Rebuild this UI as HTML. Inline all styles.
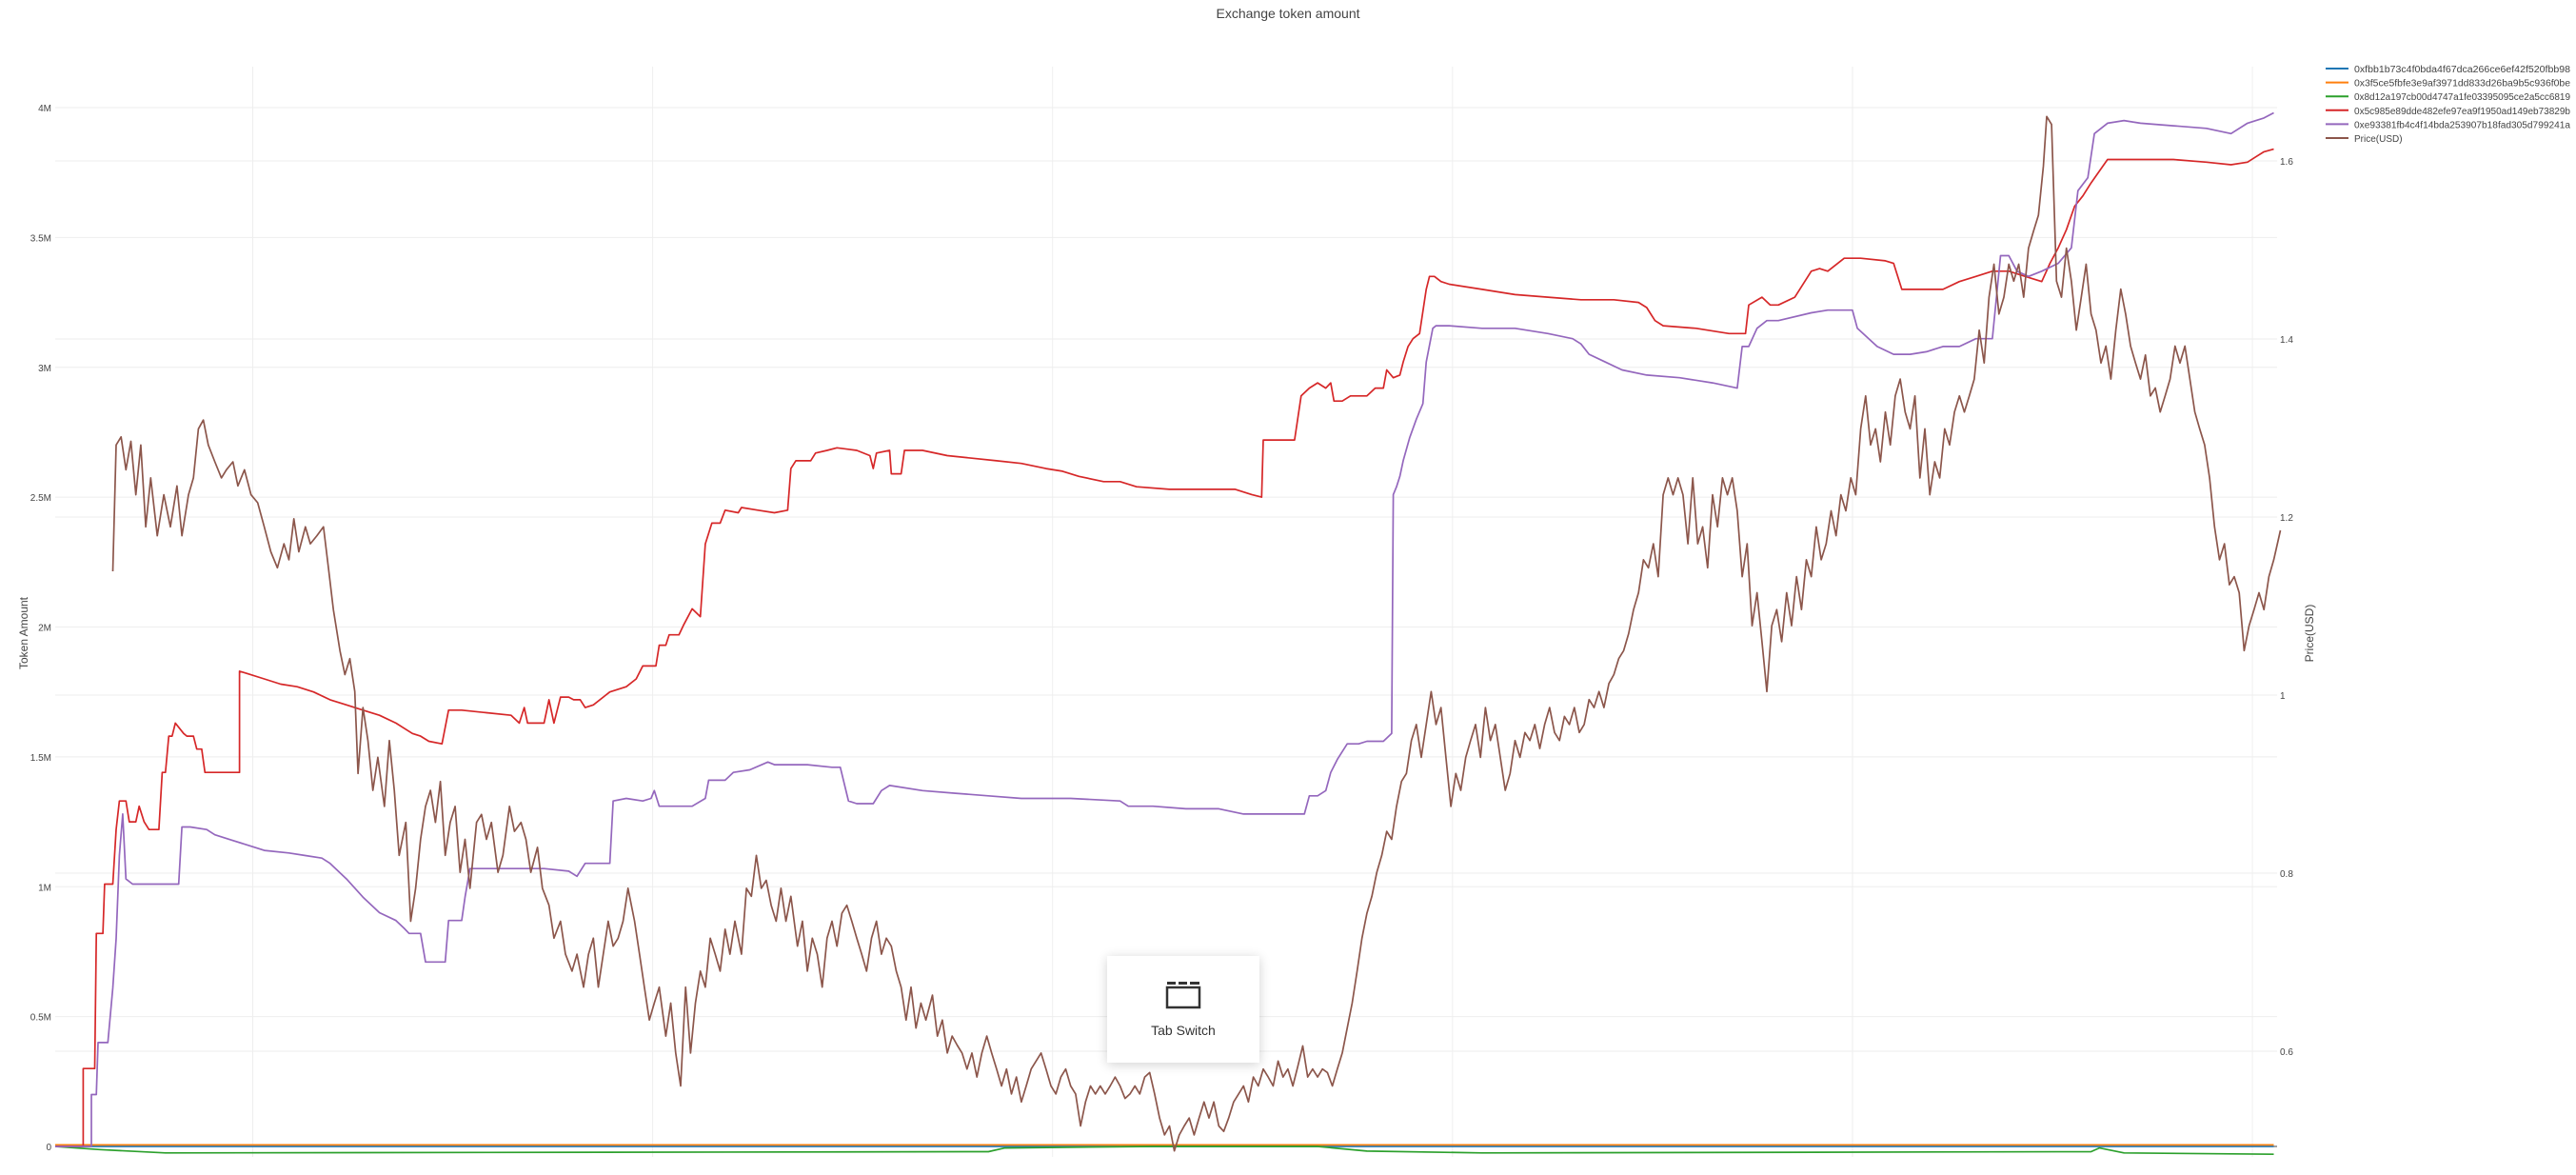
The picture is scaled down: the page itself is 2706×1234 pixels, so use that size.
<!DOCTYPE html>
<html><head><meta charset="utf-8">
<style>
html,body{margin:0;padding:0;background:#fff;width:2706px;height:1234px;overflow:hidden;font-family:"Liberation Sans",sans-serif;}
svg{display:block}
</style></head>
<body>
<svg id="chart" width="2706" height="1234" xmlns="http://www.w3.org/2000/svg">
  <defs><filter id="sh" x="-20%" y="-20%" width="140%" height="140%"><feGaussianBlur stdDeviation="6"/></filter></defs>
  <text x="1353" y="19" text-anchor="middle" font-size="14" fill="#444">Exchange token amount</text>
  <g id="grid"></g>
  <g id="axes"></g>
  <g id="series"></g>
  <text transform="translate(29,665) rotate(-90)" text-anchor="middle" font-size="12" fill="#444">Token Amount</text>
  <text transform="translate(2430,665) rotate(-90)" text-anchor="middle" font-size="12" fill="#444">Price(USD)</text>
  <g id="legend"></g>
  <g>
    <rect x="1163" y="1006" width="160" height="112" fill="#000" opacity="0.18" filter="url(#sh)"/>
    <rect x="1163" y="1004" width="160" height="112" fill="#fff"/>
    <g fill="#333">
      <rect x="1226" y="1031" width="9" height="3"/><rect x="1238" y="1031" width="9" height="3"/><rect x="1250" y="1031" width="10" height="3"/>
      <rect x="1226" y="1037" width="34" height="21" fill="none" stroke="#333" stroke-width="2.5"/>
    </g>
    <text x="1243" y="1087" text-anchor="middle" font-size="14" fill="#333">Tab Switch</text>
  </g>
</svg>
<script>
const tokenTicks=[0,0.5,1,1.5,2,2.5,3,3.5,4];
const tokenTickLabels=["0","0.5M","1M","1.5M","2M","2.5M","3M","3.5M","4M"];
const priceTicks=[0.6,0.8,1.0,1.2,1.4,1.6];
const priceTickLabels=["0.6","0.8","1","1.2","1.4","1.6"];
const xGridDays=[153,396,639,882,1125,1368];
const seriesNames=["0xfbb1b73c4f0bda4f67dca266ce6ef42f520fbb98","0x3f5ce5fbfe3e9af3971dd833d26ba9b5c936f0be","0x8d12a197cb00d4747a1fe03395095ce2a5cc6819","0x5c985e89dde482efe97ea9f1950ad149eb73829b","0xe93381fb4c4f14bda253907b18fad305d799241a","Price(USD)"];
const seriesColors=["#1f77b4","#ff7f0e","#2ca02c","#d62728","#9467bd","#8c564b"];
const blueDays=[33,1381];
const blueValues=[0,0];
const orangeDays=[33,1381];
const orangeValues=[0.006,0.006];
const greenDays=[33,60,100,600,610,700,800,830,900,1270,1275,1290,1381];
const greenValues=[0,-0.012,-0.025,-0.02,-0.006,0,0,-0.018,-0.025,-0.02,-0.006,-0.025,-0.03];
const redDays=[33,50,50,57,58,62,63,68,70,72,76,78,82,84,87,90,96,98,100,102,104,106,111,113,117,119,122,124,145,145,150,160,170,180,190,200,210,220,230,240,250,255,260,268,272,280,295,310,315,318,320,330,333,336,340,345,348,352,355,360,370,380,386,390,398,400,404,406,412,415,420,425,428,432,437,440,448,450,460,470,478,480,483,492,495,502,508,520,528,530,532,540,541,547,549,560,575,590,605,620,635,645,655,670,680,690,710,730,750,760,766,767,775,786,790,795,800,805,808,810,815,820,825,830,835,840,842,846,850,852,855,858,862,866,868,871,875,880,900,920,940,960,980,995,1000,1005,1010,1030,1050,1060,1062,1070,1075,1080,1090,1100,1105,1110,1120,1130,1145,1150,1155,1170,1180,1190,1200,1210,1220,1230,1240,1245,1250,1255,1260,1265,1270,1280,1290,1300,1320,1340,1355,1365,1370,1375,1381];
const redValues=[0,0,0.30,0.30,0.82,0.82,1.01,1.01,1.22,1.33,1.33,1.25,1.25,1.31,1.25,1.22,1.22,1.44,1.44,1.58,1.58,1.63,1.59,1.58,1.58,1.53,1.53,1.44,1.44,1.83,1.82,1.80,1.78,1.77,1.75,1.72,1.70,1.68,1.66,1.63,1.59,1.58,1.56,1.55,1.68,1.68,1.67,1.66,1.63,1.69,1.63,1.63,1.72,1.63,1.73,1.73,1.72,1.72,1.69,1.70,1.75,1.77,1.80,1.85,1.85,1.93,1.93,1.97,1.97,2.01,2.07,2.04,2.32,2.40,2.40,2.45,2.44,2.46,2.45,2.44,2.45,2.61,2.64,2.64,2.67,2.68,2.69,2.68,2.66,2.61,2.67,2.68,2.59,2.59,2.68,2.68,2.66,2.65,2.64,2.63,2.61,2.60,2.58,2.56,2.56,2.54,2.53,2.53,2.53,2.51,2.50,2.72,2.72,2.72,2.89,2.92,2.94,2.92,2.94,2.87,2.87,2.89,2.89,2.89,2.92,2.92,2.99,2.96,2.97,3.02,3.08,3.11,3.13,3.30,3.35,3.35,3.33,3.32,3.30,3.28,3.27,3.26,3.26,3.25,3.23,3.18,3.16,3.15,3.13,3.13,3.24,3.27,3.24,3.24,3.27,3.37,3.38,3.37,3.42,3.42,3.41,3.40,3.30,3.30,3.30,3.33,3.35,3.37,3.37,3.35,3.33,3.40,3.46,3.53,3.62,3.66,3.71,3.80,3.80,3.80,3.80,3.79,3.78,3.79,3.81,3.83,3.84];
const purpleDays=[33,55,55,58,59,65,68,70,72,74,76,80,108,110,115,125,130,140,155,160,175,185,195,200,210,220,230,240,245,248,255,258,270,272,280,282,285,330,345,350,355,370,372,380,390,395,397,400,405,420,428,430,440,445,455,466,470,490,505,510,515,520,530,535,540,560,580,600,620,650,680,685,700,720,740,755,792,795,800,805,808,812,818,825,830,840,845,846,848,850,852,856,860,864,866,870,872,880,900,920,940,955,960,965,975,985,1000,1020,1040,1055,1058,1062,1067,1073,1080,1100,1110,1125,1128,1140,1150,1160,1170,1180,1190,1200,1210,1215,1220,1225,1232,1240,1250,1258,1262,1268,1272,1280,1290,1300,1320,1340,1355,1365,1375,1381];
const purpleValues=[0,0,0.20,0.20,0.40,0.40,0.61,0.80,1.12,1.28,1.03,1.01,1.01,1.23,1.23,1.22,1.20,1.18,1.15,1.14,1.13,1.12,1.11,1.09,1.03,0.96,0.90,0.87,0.84,0.82,0.82,0.71,0.71,0.87,0.87,0.96,1.07,1.07,1.06,1.04,1.09,1.09,1.33,1.34,1.33,1.34,1.37,1.31,1.31,1.31,1.34,1.41,1.41,1.44,1.45,1.48,1.47,1.47,1.46,1.46,1.33,1.32,1.32,1.37,1.39,1.37,1.36,1.35,1.34,1.34,1.33,1.31,1.31,1.30,1.30,1.28,1.28,1.35,1.35,1.37,1.44,1.49,1.55,1.55,1.56,1.56,1.59,2.51,2.54,2.58,2.64,2.73,2.80,2.86,3.02,3.15,3.16,3.16,3.15,3.15,3.13,3.11,3.09,3.05,3.02,2.99,2.97,2.96,2.94,2.92,3.08,3.08,3.15,3.18,3.18,3.21,3.22,3.22,3.15,3.08,3.05,3.05,3.06,3.08,3.08,3.11,3.11,3.43,3.43,3.37,3.35,3.37,3.40,3.46,3.68,3.73,3.90,3.94,3.95,3.94,3.93,3.92,3.90,3.94,3.96,3.98];
const priceDays=[68,70,73,76,79,82,85,88,91,95,99,103,107,110,114,117,120,123,126,130,134,137,141,144,148,152,156,160,164,168,172,175,178,181,185,188,192,196,199,202,206,209,212,215,217,220,223,226,229,233,236,239,242,246,249,252,255,258,261,264,267,270,273,276,279,282,285,289,292,295,298,302,305,309,312,316,319,322,326,329,333,336,340,343,347,350,354,357,360,363,366,369,372,375,378,381,385,388,391,394,397,400,404,407,410,413,416,419,422,425,428,431,434,437,440,443,446,450,453,456,459,462,465,468,471,474,477,480,484,487,490,493,496,499,502,505,508,511,514,517,520,523,526,529,532,535,538,541,544,547,550,553,556,559,562,566,569,572,575,578,581,584,587,590,593,596,599,602,605,608,611,614,617,620,623,626,629,632,635,638,641,644,647,650,653,656,659,662,665,668,671,674,677,680,683,686,689,692,695,698,701,704,707,710,713,716,719,722,725,728,731,734,737,740,743,746,749,752,755,758,761,764,767,770,773,776,779,782,785,788,791,794,797,800,803,806,809,812,815,818,821,824,827,830,833,836,839,842,845,848,851,854,857,860,863,866,869,872,875,878,881,884,887,890,893,896,899,902,905,908,911,914,917,920,923,926,929,932,935,938,941,944,947,950,953,956,959,962,965,968,971,974,977,980,983,986,989,992,995,998,1001,1004,1007,1010,1013,1016,1019,1022,1025,1028,1031,1034,1037,1040,1043,1046,1049,1052,1055,1058,1061,1064,1067,1070,1073,1076,1079,1082,1085,1088,1091,1094,1097,1100,1103,1106,1109,1112,1115,1118,1121,1124,1127,1130,1133,1136,1139,1142,1145,1148,1151,1154,1157,1160,1163,1166,1169,1172,1175,1178,1181,1184,1187,1190,1193,1196,1199,1202,1205,1208,1211,1214,1217,1220,1223,1226,1229,1232,1235,1238,1241,1243,1246,1249,1252,1255,1258,1261,1264,1267,1270,1273,1276,1279,1282,1285,1288,1291,1294,1297,1300,1303,1306,1309,1312,1315,1318,1321,1324,1327,1330,1333,1336,1339,1342,1345,1348,1351,1354,1357,1360,1363,1366,1369,1372,1375,1378,1381,1385];
const priceValues=[1.139,1.281,1.290,1.253,1.285,1.225,1.281,1.189,1.244,1.179,1.225,1.189,1.235,1.179,1.225,1.244,1.299,1.309,1.281,1.262,1.244,1.253,1.262,1.235,1.253,1.225,1.216,1.189,1.161,1.143,1.170,1.152,1.198,1.161,1.189,1.170,1.179,1.189,1.143,1.096,1.050,1.023,1.041,1.004,0.912,0.986,0.949,0.893,0.930,0.875,0.949,0.893,0.820,0.857,0.746,0.783,0.838,0.875,0.893,0.857,0.903,0.820,0.857,0.875,0.801,0.838,0.783,0.857,0.866,0.838,0.857,0.801,0.820,0.875,0.847,0.857,0.838,0.801,0.829,0.783,0.764,0.727,0.746,0.709,0.690,0.709,0.672,0.709,0.727,0.672,0.709,0.746,0.718,0.727,0.746,0.783,0.746,0.709,0.672,0.635,0.654,0.672,0.617,0.654,0.598,0.561,0.672,0.598,0.654,0.690,0.672,0.727,0.709,0.690,0.737,0.709,0.746,0.709,0.783,0.774,0.820,0.783,0.792,0.764,0.746,0.783,0.746,0.774,0.718,0.746,0.690,0.727,0.709,0.672,0.727,0.746,0.718,0.755,0.764,0.746,0.727,0.709,0.690,0.727,0.746,0.709,0.727,0.718,0.690,0.672,0.635,0.672,0.626,0.654,0.635,0.663,0.617,0.635,0.598,0.617,0.607,0.598,0.580,0.598,0.571,0.598,0.617,0.598,0.580,0.561,0.580,0.552,0.571,0.543,0.561,0.580,0.589,0.598,0.580,0.561,0.552,0.571,0.580,0.561,0.552,0.516,0.543,0.561,0.552,0.561,0.552,0.561,0.571,0.561,0.547,0.552,0.561,0.552,0.571,0.576,0.552,0.525,0.506,0.516,0.488,0.506,0.516,0.525,0.506,0.525,0.543,0.525,0.543,0.516,0.510,0.525,0.543,0.552,0.561,0.543,0.571,0.561,0.580,0.571,0.561,0.589,0.571,0.580,0.561,0.583,0.606,0.571,0.580,0.571,0.580,0.576,0.561,0.580,0.598,0.626,0.654,0.690,0.727,0.755,0.774,0.801,0.820,0.847,0.838,0.875,0.903,0.912,0.949,0.967,0.930,0.967,1.004,0.967,0.986,0.930,0.875,0.912,0.893,0.930,0.949,0.967,0.930,0.986,0.949,0.967,0.930,0.893,0.912,0.949,0.930,0.958,0.949,0.967,0.940,0.967,0.986,0.958,0.949,0.976,0.967,0.986,0.958,0.967,0.995,0.986,1.004,0.986,1.013,1.023,1.041,1.050,1.069,1.096,1.115,1.152,1.143,1.170,1.133,1.225,1.244,1.225,1.244,1.225,1.170,1.244,1.170,1.189,1.143,1.225,1.189,1.244,1.225,1.244,1.207,1.133,1.170,1.078,1.115,1.060,1.004,1.078,1.096,1.060,1.115,1.078,1.133,1.096,1.152,1.133,1.189,1.152,1.170,1.207,1.179,1.225,1.207,1.244,1.225,1.299,1.336,1.281,1.299,1.262,1.318,1.281,1.336,1.355,1.318,1.299,1.336,1.244,1.299,1.225,1.262,1.244,1.299,1.281,1.318,1.336,1.318,1.336,1.355,1.410,1.373,1.447,1.484,1.428,1.447,1.484,1.465,1.484,1.447,1.502,1.521,1.539,1.594,1.650,1.641,1.465,1.447,1.502,1.465,1.410,1.447,1.484,1.428,1.410,1.373,1.392,1.355,1.410,1.456,1.428,1.392,1.373,1.355,1.382,1.336,1.345,1.318,1.336,1.355,1.392,1.373,1.392,1.355,1.318,1.299,1.281,1.244,1.189,1.152,1.170,1.124,1.133,1.115,1.050,1.078,1.096,1.115,1.096,1.133,1.152,1.185];

const NS="http://www.w3.org/2000/svg";
const X0=58,X1=2392;
function xScale(d){return X0+(d-33)*(X1-X0)/1350;}
function yToken(v){return 1204-v*272.75;}
function yPrice(p){return 1104-(p-0.6)*935;}
function mk(tag,attrs,parent){const e=document.createElementNS(NS,tag);for(const k in attrs)e.setAttribute(k,attrs[k]);parent.appendChild(e);return e;}
const grid=document.getElementById('grid'),axes=document.getElementById('axes'),series=document.getElementById('series'),legend=document.getElementById('legend');

xGridDays.forEach((d,i)=>{
  const l=mk('line',{x1:xScale(d),x2:xScale(d),y1:70,y2:1215,stroke:'#eee','stroke-width':1},grid);
  
  
});
tokenTicks.forEach((v,i)=>{
  const y=yToken(v);
  if(v>0){const l=mk('line',{x1:X0,x2:X1,y1:y,y2:y,stroke:'#eee','stroke-width':1},grid);
  
  }
  const t=mk('text',{x:X0-4,y:y+4,'text-anchor':'end','font-size':10,fill:'#444'},axes);
  t.textContent=tokenTickLabels[i];
  
  
});
priceTicks.forEach((p,i)=>{
  const y=yPrice(p);
  const l=mk('line',{x1:X0,x2:X1,y1:y,y2:y,stroke:'#eee','stroke-width':1},grid);
  
  
  const t=mk('text',{x:X1+3,y:y+4,'font-size':10,fill:'#444'},axes);
  t.textContent=priceTickLabels[i];
  
  
});
const zl=mk('line',{x1:X0,x2:X1,y1:1204,y2:1204,stroke:'#444','stroke-width':1},axes);



function drawLine(days,vals,yf,color,name){
  const pts=days.map((d,i)=>xScale(d).toFixed(1)+','+yf(vals[i]).toFixed(1)).join(' ');
  const p=mk('polyline',{points:pts,fill:'none',stroke:color,'stroke-width':1.7,'stroke-linejoin':'round'},series);
  
  
}
drawLine(blueDays,blueValues,yToken,seriesColors[0],'series-0xfbb1');
drawLine(orangeDays,orangeValues,yToken,seriesColors[1],'series-0x3f5c');
drawLine(greenDays,greenValues,yToken,seriesColors[2],'series-0x8d12');
drawLine(redDays,redValues,yToken,seriesColors[3],'series-0x5c98');
drawLine(purpleDays,purpleValues,yToken,seriesColors[4],'series-0xe933');
drawLine(priceDays,priceValues,yPrice,seriesColors[5],'series-price');

seriesNames.forEach((n,i)=>{
  const y=72+i*14.6;
  const g=mk('g',{},legend);
  
  
  mk('line',{x1:2443,x2:2467,y1:y,y2:y,stroke:seriesColors[i],'stroke-width':2},g);
  const attrs={x:2473,y:y+4,'font-size':10,fill:'#444'};
  if(n.length>20){attrs.textLength=227;attrs.lengthAdjust='spacingAndGlyphs';}
  const t=mk('text',attrs,g);
  t.textContent=n;
});
</script>
</body></html>
